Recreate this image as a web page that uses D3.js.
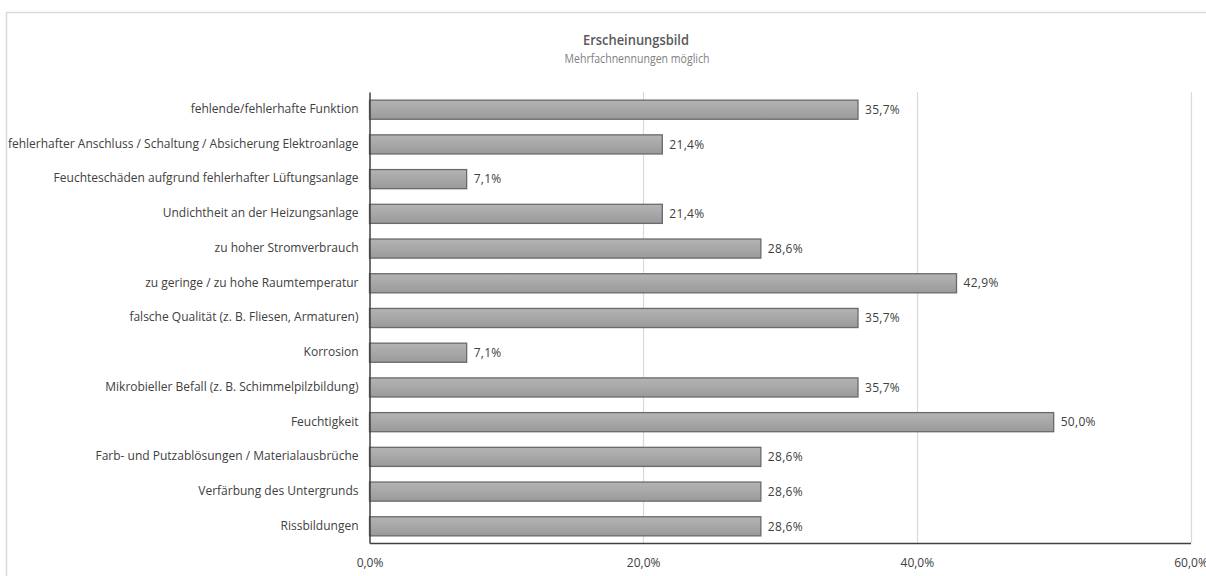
<!DOCTYPE html>
<html><head><meta charset="utf-8">
<script src="https://cdn.jsdelivr.net/npm/d3@7"></script>
<style>body{margin:0;background:#fff}svg{display:block}text{font-family:"Open Sans",sans-serif}</style>
</head><body><svg id="c" width="1206" height="576"></svg>
<script>
const categories = [
  "fehlende/fehlerhafte Funktion",
  "fehlerhafter Anschluss / Schaltung / Absicherung Elektroanlage",
  "Feuchteschäden aufgrund fehlerhafter Lüftungsanlage",
  "Undichtheit an der Heizungsanlage",
  "zu hoher Stromverbrauch",
  "zu geringe / zu hohe Raumtemperatur",
  "falsche Qualität (z. B. Fliesen, Armaturen)",
  "Korrosion",
  "Mikrobieller Befall (z. B. Schimmelpilzbildung)",
  "Feuchtigkeit",
  "Farb- und Putzablösungen / Materialausbrüche",
  "Verfärbung des Untergrunds",
  "Rissbildungen"
];
const values = [35.7, 21.4, 7.1, 21.4, 28.6, 42.9, 35.7, 7.1, 35.7, 50.0, 28.6, 28.6, 28.6];
const tickValues = [0, 20, 40, 60];
const title = "Erscheinungsbild";
const subtitle = "Mehrfachnennungen möglich";

const fmt = v => v.toFixed(1).replace(".", ",") + "%";
const svg = d3.select("#c");
const pL = 369.5, pR = 1190.5, pT = 92, pB = 543;

// chart border
svg.append("path").attr("d", "M6.5,576 V12.5 H1206").attr("fill", "none").attr("stroke", "#d9d9d9").attr("stroke-width", 1.5);

const x = d3.scaleLinear().domain([0, 60]).range([pL, pR]);
const y = d3.scaleBand().domain(categories).range([pT, pB]).paddingInner(0.45).paddingOuter(0.22);

const defs = svg.append("defs");
const g = defs.append("linearGradient").attr("id", "bg").attr("x1", 0).attr("y1", 0).attr("x2", 0).attr("y2", 1);
g.append("stop").attr("offset", "0%").attr("stop-color", "#b4b4b4");
g.append("stop").attr("offset", "100%").attr("stop-color", "#9a9a9a");

// gridlines
svg.append("g").selectAll("line").data(tickValues.slice(1)).join("line")
  .attr("x1", d => Math.round(x(d)) + 0.5).attr("x2", d => Math.round(x(d)) + 0.5)
  .attr("y1", pT).attr("y2", pB).attr("stroke", "#d9d9d9").attr("stroke-width", 1.2);

// bars
svg.append("g").selectAll("rect").data(values).join("rect")
  .attr("x", x(0)).attr("y", (d, i) => y(categories[i]) + 0.5)
  .attr("width", d => x(d) - x(0)).attr("height", y.bandwidth())
  .attr("fill", "url(#bg)").attr("stroke", "#6a6a6a").attr("stroke-width", 1.3);

// value labels
svg.append("g").selectAll("text").data(values).join("text")
  .attr("x", d => x(d) + 7).attr("y", (d, i) => y(categories[i]) + y.bandwidth() / 2 + 0.5)
  .attr("dy", "0.35em").attr("font-size", 12).attr("letter-spacing", 0.3).attr("fill", "#404040").text(d => fmt(d));

// x axis
const xa = svg.append("g").attr("transform", `translate(0,${pB})`)
  .call(d3.axisBottom(x).tickValues(tickValues).tickSize(0).tickPadding(15).tickFormat(d => fmt(d)));
xa.select(".domain").attr("stroke", "#404040").attr("stroke-width", 1.5);
xa.selectAll("text").attr("font-size", 12).attr("fill", "#404040").attr("font-family", "Open Sans, sans-serif");

// y axis
const ya = svg.append("g").attr("transform", `translate(${pL},0)`)
  .call(d3.axisLeft(y).tickSize(0).tickPadding(11));
ya.select(".domain").attr("stroke", "#404040").attr("stroke-width", 1.5);
ya.selectAll("text").attr("font-size", 12).attr("fill", "#404040").attr("font-family", "Open Sans, sans-serif");

// titles
svg.append("text").attr("x", 636).attr("y", 45).attr("text-anchor", "middle")
  .attr("font-size", 15).attr("font-weight", 600).attr("fill", "#595959")
  .attr("textLength", 106).attr("lengthAdjust", "spacingAndGlyphs").text(title);
svg.append("text").attr("x", 637).attr("y", 63).attr("text-anchor", "middle")
  .attr("font-size", 12.5).attr("fill", "#7f7f7f")
  .attr("textLength", 145).attr("lengthAdjust", "spacingAndGlyphs").text(subtitle);
</script></body></html>
